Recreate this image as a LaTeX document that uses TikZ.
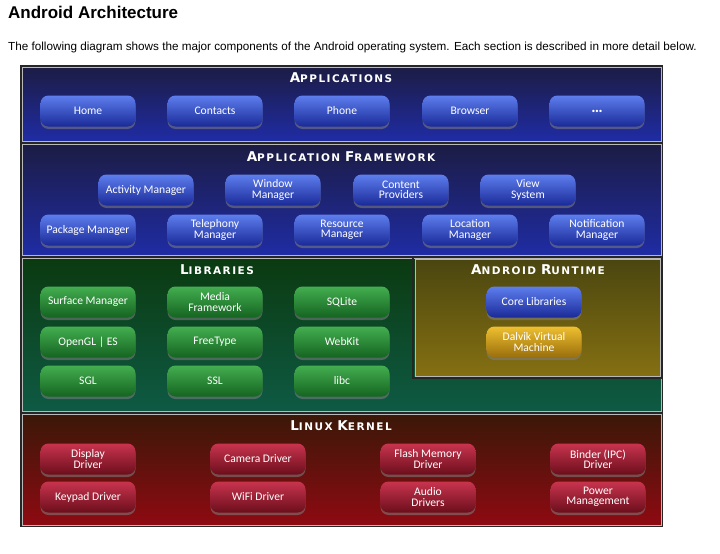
\documentclass[tikz,border=0pt]{standalone}
\usepackage{fontspec}
\setmainfont{Liberation Sans}
\newfontfamily\btnfont{Carlito}
\newfontfamily\capsfont[LetterSpace=14]{DejaVu Sans}
\usetikzlibrary{shadows}

% cores das camadas
\definecolor{appdark}{HTML}{1C1C44}
\definecolor{appblue}{HTML}{1F2CA4}
\definecolor{libdark}{HTML}{0B3A10}
\definecolor{libteal}{HTML}{0E5A44}
\definecolor{rtdark}{HTML}{4A4610}
\definecolor{rtlight}{HTML}{857012}
\definecolor{krndark}{HTML}{3A1808}
\definecolor{krnred}{HTML}{8E0A12}
% cores dos botoes
\definecolor{bluetop}{HTML}{5E7EEE}
\definecolor{bluebot}{HTML}{1A2A98}
\definecolor{greentop}{HTML}{44AE50}
\definecolor{greenbot}{HTML}{146420}
\definecolor{redtop}{HTML}{C8344E}
\definecolor{redbot}{HTML}{6C0E1C}
\definecolor{goldtop}{HTML}{EEC030}
\definecolor{goldbot}{HTML}{9A6E0C}

\newcommand\bandcaps[2]{{\fontsize{13.5}{14}\selectfont #1}{\fontsize{10.5}{14}\selectfont #2}}

\tikzset{
  band/.style={draw=gray!55, line width=1pt},
  bandtitle/.style={text=white, font=\capsfont\bfseries, inner sep=0pt},
  btn/.style={rounded corners=8pt, minimum width=95pt, minimum height=31pt,
    align=center, text=white, inner sep=1pt,
    font=\btnfont\fontsize{11.6}{10.2}\selectfont,
    drop shadow={opacity=0.55, shadow xshift=0pt, shadow yshift=-2.5pt}},
  bluebtn/.style={btn, top color=bluetop, bottom color=bluebot},
  greenbtn/.style={btn, top color=greentop, bottom color=greenbot},
  redbtn/.style={btn, top color=redtop, bottom color=redbot},
  goldbtn/.style={btn, top color=goldtop, bottom color=goldbot},
}

\begin{document}
\begin{tikzpicture}[x=1pt,y=-1pt]
\useasboundingbox[fill=white] (0,0) rectangle (720,554);

\node[anchor=base west, inner sep=0pt, font=\bfseries\fontsize{17}{18}\selectfont] (titulo) at (8,19) {Android Architecture};
\node[anchor=base west, inner sep=0pt, font=\fontsize{11.7}{12}\selectfont] (subtitulo) at (8,50)
  {The following diagram shows the major components of the Android operating system. Each section is described in more detail below.};

\fill[black!85] (20,65) rectangle (663,527); % moldura

% camadas
\draw[band, top color=appdark, bottom color=appblue] (22,67) rectangle (661,141);
\draw[band, top color=appdark, bottom color=appblue] (22,144) rectangle (661,255);
\draw[band, top color=libdark, bottom color=libteal] (22,258) rectangle (661,411);
\draw[black!85, line width=1.5pt] (413,257) rectangle (662,378);
\draw[band, top color=rtdark, bottom color=rtlight] (415,259) rectangle (660,376);
\draw[band, top color=krndark, bottom color=krnred] (22,414) rectangle (661,525);

% titulos
\node[bandtitle] (tapps) at (341,78) {\bandcaps{A}{PPLICATIONS}};
\node[bandtitle] (tfw) at (341,157) {\bandcaps{A}{PPLICATION} \bandcaps{F}{RAMEWORK}};
\node[bandtitle] (tlib) at (217,270) {\bandcaps{L}{IBRARIES}};
\node[bandtitle] (trt) at (538,270) {\bandcaps{A}{NDROID} \bandcaps{R}{UNTIME}};
\node[bandtitle] (tkrn) at (341,426) {\bandcaps{L}{INUX} \bandcaps{K}{ERNEL}};

% aplicacoes
\foreach \x/\nome/\txt in {88/home/Home, 215/contacts/Contacts, 342/phone/Phone, 470/browser/Browser, 597/more/{\fontsize{16}{16}\selectfont\bfseries\dots}}{
  \node[bluebtn] (\nome) at (\x,111) {\txt};
}

% framework
\foreach \x/\nome/\txt in {146/activity/{Activity Manager}, 273/window/{Window\\Manager}, 401/content/{Content\\Providers}, 528/view/{View\\System}}{
  \node[bluebtn] (\nome) at (\x,190) {\txt};
}
\foreach \x/\nome/\txt in {88/package/{Package Manager}, 215/telephony/{Telephony\\Manager}, 342/resource/{Resource\\Manager}, 470/location/{Location\\Manager}, 597/notification/{Notification\\Manager}}{
  \node[bluebtn] (\nome) at (\x,230) {\txt};
}

% bibliotecas
\foreach \x/\y/\nome/\txt in {88/302/surface/{Surface Manager}, 215/302/media/{Media\\Framework}, 342/302/sqlite/SQLite,
  88/342/opengl/{OpenGL | ES}, 215/342/freetype/FreeType, 342/342/webkit/WebKit,
  88/381/sgl/SGL, 215/381/ssl/SSL, 342/381/libc/libc}{
  \node[greenbtn] (\nome) at (\x,\y) {\txt};
}

% runtime
\node[bluebtn] (core) at (534,302) {Core Libraries};
\node[goldbtn] (dalvik) at (534,342) {Dalvik Virtual\\Machine};

% kernel
\foreach \x/\y/\nome/\txt in {88/459/display/{Display\\Driver}, 258/459/camera/{Camera Driver}, 428/459/flash/{Flash Memory\\Driver}, 598/459/binder/{Binder (IPC)\\Driver},
  88/497/keypad/{Keypad Driver}, 258/497/wifi/{WiFi Driver}, 428/497/audio/{Audio\\Drivers}, 598/497/power/{Power\\Management}}{
  \node[redbtn] (\nome) at (\x,\y) {\txt};
}
\end{tikzpicture}
\end{document}
